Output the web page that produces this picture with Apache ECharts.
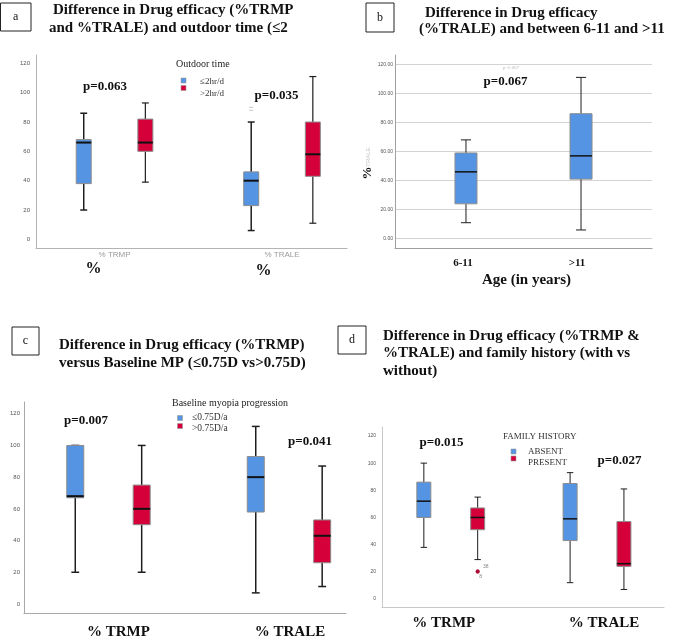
<!DOCTYPE html>
<html>
<head>
<meta charset="utf-8">
<title>Drug efficacy box plots</title>
<script src="https://cdn.jsdelivr.net/npm/echarts@6/dist/echarts.min.js"></script>
<style>
  html, body { margin: 0; padding: 0; background: #fff; }
  #chart { width: 685px; height: 643px; }
</style>
</head>
<body>
<div id="chart"></div>
<script>
// -----------------------------------------------------------------------------
// Data: each box is [min, Q1, median, Q3, max]
// -----------------------------------------------------------------------------
const yTicks = [0, 20, 40, 60, 80, 100, 120];

// a: outdoor time
const aGroups = ["% TRMP", "% TRALE"];
const aLegend = ["≤2hr/d", ">2hr/d"];
const aLow = [[20, 38, 66, 68, 86], [6, 23, 40, 46, 80]];
const aHigh = [[39, 60, 66, 82, 93], [11, 43, 58, 80, 111]];
const aLowOutliers = [[1, 88], [1, 90]]; // [group index, value]
const aP = ["p=0.063", "p=0.035"];

// b: age
const bGroups = ["6-11", ">11"];
const bStats = [[11, 24, 46, 59, 68], [6, 41, 57, 86, 111]];
const bP = ["p=0.067"];

// c: baseline myopia progression
const cGroups = ["% TRMP", "% TRALE"];
const cLegend = ["≤0.75D/a", ">0.75D/a"];
const cLow = [[20, 67, 68, 100, 100], [7, 58, 80, 93, 112]];
const cHigh = [[20, 50, 60, 75, 100], [11, 26, 43, 53, 87]];
const cP = ["p=0.007", "p=0.041"];

// d: family history
const dGroups = ["% TRMP", "% TRALE"];
const dLegend = ["ABSENT", "PRESENT"];
const dAbsent = [[38, 60, 72, 86, 100], [12, 43, 59, 85, 93]];
const dPresent = [[29, 51, 60, 67, 75], [7, 24, 26, 57, 81]];
const dPresentOutliers = [[0, 20.5, "38"], [0, 20, "8"]]; // [group index, value, case id]
const dP = ["p=0.015", "p=0.027"];

// -----------------------------------------------------------------------------
// Styling / layout
// -----------------------------------------------------------------------------
const BLUE = "#5494e3";
const RED = "#d5003a";
const SERIF = "'Liberation Serif', 'Times New Roman', serif";
const SANS = "'Liberation Sans', Arial, sans-serif";
const SHIFT = 0.184; // side-by-side offset of the two boxes in a group

const panels = [
  { grid: { left: 36, top: 55, width: 311, height: 193 }, x: [-0.469, 1.388], y: [-5.9, 125.7],
    boxW: 15, groups: aGroups, axisColor: "#b4b4b4", labelPad: [[0, 0], [0, 0]] },
  { grid: { left: 395, top: 55, width: 257, height: 193 }, x: [-0.617, 1.617], y: [-6.4, 126.4],
    boxW: 22, groups: bGroups, axisColor: "#a0a0a0", labelPad: [[0, 6], [0, 8]] },
  { grid: { left: 24, top: 402, width: 322, height: 211 }, x: [-0.468, 1.316], y: [-5.7, 127.4],
    boxW: 17, groups: cGroups, axisColor: "#a8a8a8", labelPad: [[20, 0], [2, 0]] },
  { grid: { left: 382, top: 427, width: 282, height: 180 }, x: [-0.47, 1.458], y: [-5.9, 126.6],
    boxW: 14, groups: dGroups, axisColor: "#c8c8c8", labelPad: [[0, 14], [14, 0]] },
];

const xLabelStyle = [
  { fontFamily: SANS, fontSize: 8, color: "#9a9a9a", margin: 3 },
  { fontFamily: SERIF, fontSize: 11, fontWeight: "bold", color: "#111", margin: 10 },
  { fontFamily: SERIF, fontSize: 15, fontWeight: "bold", color: "#111", margin: 12 },
  { fontFamily: SERIF, fontSize: 15, fontWeight: "bold", color: "#111", margin: 9 },
];
const yLabelStyle = [
  { fontSize: 6, margin: 6, formatter: (v) => String(v) },
  { fontSize: 5, margin: 2, formatter: (v) => v.toFixed(2) },
  { fontSize: 6, margin: 4, formatter: (v) => String(v) },
  { fontSize: 5, margin: 6, formatter: (v) => String(v) },
];

// -----------------------------------------------------------------------------
// Helpers
// -----------------------------------------------------------------------------
const toItems = (stats, shift) => stats.map((s, i) => [i + shift, ...s]);

const boxRenderer = (boxW, fill, medianWidth, whiskerWidth) => (params, api) => {
  const x = api.value(0);
  const pt = (k) => api.coord([x, api.value(k)]);
  const [cx, yMin] = pt(1);
  const yQ1 = pt(2)[1];
  const yMed = pt(3)[1];
  const yQ3 = pt(4)[1];
  const yMax = pt(5)[1];
  const h = boxW / 2;
  const c = boxW * 0.23;
  const w = { stroke: "#1e1e1e", lineWidth: whiskerWidth };
  return {
    type: "group",
    children: [
      { type: "line", shape: { x1: cx, y1: yQ3, x2: cx, y2: yMax }, style: w },
      { type: "line", shape: { x1: cx - c, y1: yMax, x2: cx + c, y2: yMax }, style: w },
      { type: "line", shape: { x1: cx, y1: yQ1, x2: cx, y2: yMin }, style: w },
      { type: "line", shape: { x1: cx - c, y1: yMin, x2: cx + c, y2: yMin }, style: w },
      { type: "rect", shape: { x: cx - h, y: yQ3, width: boxW, height: yQ1 - yQ3 },
        style: { fill: fill, stroke: "#8c8c8c", lineWidth: 1 } },
      { type: "line", shape: { x1: cx - h, y1: yMed, x2: cx + h, y2: yMed },
        style: { stroke: "#111", lineWidth: medianWidth } },
    ],
  };
};

const boxSeries = (name, idx, stats, shift, fill, medianWidth, whiskerWidth) => ({
  name: name,
  type: "custom",
  xAxisIndex: idx,
  yAxisIndex: idx,
  encode: { x: 0, y: [1, 2, 3, 4, 5] },
  renderItem: boxRenderer(panels[idx].boxW, fill, medianWidth, whiskerWidth),
  data: toItems(stats, shift),
  z: 3,
});

const txt = (text, x, y, o = {}) => ({
  type: "text",
  x: x,
  y: y,
  rotation: o.rotation || 0,
  style: {
    text: text,
    fill: o.color || "#111",
    fontFamily: o.family || SERIF,
    fontSize: o.size || 15,
    fontWeight: o.weight || "normal",
    align: o.align || "left",
    textAlign: o.align || "left",
    verticalAlign: "middle",
    textVerticalAlign: "middle",
  },
});

const frameBox = (label, x, y, w, h) => [
  { type: "rect", shape: { x: x, y: y, width: w, height: h },
    style: { fill: "#fff", stroke: "#222", lineWidth: 1 } },
  txt(label, x + w / 2, y + h / 2, { size: 12, align: "center" }),
];

const legendSwatch = (x, y, color) => ({
  type: "rect", shape: { x: x, y: y, width: 5, height: 5 },
  style: { fill: color, stroke: "#9a9a9a", lineWidth: 0.6 },
});

const bold = (size, align) => ({ weight: "bold", size: size, align: align || "center" });

// -----------------------------------------------------------------------------
// Option
// -----------------------------------------------------------------------------
const grids = panels.map((p) => ({ ...p.grid, containLabel: false }));

const xAxes = panels.map((p, i) => ({
  gridIndex: i,
  type: "value",
  min: p.x[0],
  max: p.x[1],
  axisLine: { show: true, onZero: false, lineStyle: { color: p.axisColor, width: 1.2 } },
  axisTick: { show: false, customValues: [0, 1] },
  splitLine: { show: false },
  axisLabel: {
    customValues: [0, 1],
    formatter: (v) => `{g${Math.round(v)}|${p.groups[Math.round(v)]}}`,
    rich: {
      g0: { padding: [0, p.labelPad[0][1], 0, p.labelPad[0][0]] },
      g1: { padding: [0, p.labelPad[1][1], 0, p.labelPad[1][0]] },
    },
    ...xLabelStyle[i],
  },
}));

const yAxes = panels.map((p, i) => ({
  gridIndex: i,
  type: "value",
  min: p.y[0],
  max: p.y[1],
  axisLine: { show: true, onZero: false, lineStyle: { color: p.axisColor, width: 1 } },
  axisTick: { show: false, customValues: yTicks },
  splitLine: { show: i === 1, lineStyle: { color: "#d2d2d2", width: 1 } },
  axisLabel: {
    customValues: yTicks,
    fontFamily: SANS,
    color: "#555",
    ...yLabelStyle[i],
  },
}));

const series = [
  boxSeries(aLegend[0], 0, aLow, -SHIFT, BLUE, 2, 1.5),
  boxSeries(aLegend[1], 0, aHigh, SHIFT, RED, 2, 1.2),
  {
    name: "a outliers",
    type: "scatter",
    xAxisIndex: 0,
    yAxisIndex: 0,
    symbol: "rect",
    symbolSize: [4, 1],
    itemStyle: { color: "#b8b8b8" },
    data: aLowOutliers.map((o) => [o[0] - SHIFT, o[1]]),
  },
  boxSeries("6-11 / >11", 1, bStats, 0, BLUE, 1.5, 1),
  boxSeries(cLegend[0], 2, cLow, -SHIFT, BLUE, 2, 1.5),
  boxSeries(cLegend[1], 2, cHigh, SHIFT, RED, 2, 1.5),
  boxSeries(dLegend[0], 3, dAbsent, -SHIFT, BLUE, 1.5, 1),
  boxSeries(dLegend[1], 3, dPresent, SHIFT, RED, 1.5, 1),
  {
    name: "d outliers",
    type: "scatter",
    xAxisIndex: 3,
    yAxisIndex: 3,
    symbolSize: 4,
    itemStyle: { color: "#a8002c" },
    label: {
      show: true,
      position: "inside",
      fontFamily: SANS,
      fontSize: 5,
      color: "#666",
      formatter: (p) => p.value[2],
    },
    data: dPresentOutliers.map((o, k) => ({
      value: [o[0] + SHIFT, o[1], o[2]],
      label: { offset: k === 0 ? [8, -5] : [3, 5] },
    })),
    z: 4,
  },
];

const graphics = [
  // panel a
  ...frameBox("a", 0.5, 3, 30.5, 28),
  txt("Difference in Drug efficacy (%TRMP", 53, 10, bold(15, "left")),
  txt("and %TRALE) and outdoor time (≤2", 49, 28, bold(15, "left")),
  txt("Outdoor time", 176, 64, { size: 10, color: "#222" }),
  legendSwatch(181, 78, BLUE),
  legendSwatch(181, 85.5, RED),
  txt(aLegend[0], 200, 81.5, { size: 9, color: "#333" }),
  txt(aLegend[1], 200, 94, { size: 9, color: "#333" }),
  txt(aP[0], 105, 87, bold(13)),
  txt(aP[1], 276.5, 96, bold(13)),
  txt("%", 93.5, 269, bold(16)),
  txt("%", 263.5, 271, bold(16)),

  // panel b
  ...frameBox("b", 366, 3, 28, 29),
  txt("Difference in Drug efficacy", 425, 13, bold(15, "left")),
  txt("(%TRALE) and between 6-11 and >11", 419, 29, bold(15, "left")),
  txt("p=0.067", 511, 68, { size: 5, color: "#bbb", align: "center" }),
  txt(bP[0], 505.5, 82, bold(13)),
  txt("%", 368, 173, { weight: "bold", size: 13, align: "center", rotation: Math.PI / 2 }),
  txt("TRALE", 368, 157, { size: 6, color: "#c4c4c4", align: "center", family: SANS, rotation: Math.PI / 2 }),
  txt("Age (in years)", 526.5, 280, bold(15)),

  // panel c
  ...frameBox("c", 12, 327, 27, 28),
  txt("Difference in Drug efficacy (%TRMP)", 59, 345, bold(15, "left")),
  txt("versus Baseline MP (≤0.75D vs>0.75D)", 59, 363, bold(15, "left")),
  txt("Baseline myopia progression", 172, 403, { size: 10, color: "#222" }),
  legendSwatch(177.5, 415.5, BLUE),
  legendSwatch(177.5, 423.5, RED),
  txt(cLegend[0], 192, 417.5, { size: 9.5, color: "#333" }),
  txt(cLegend[1], 192, 428.5, { size: 9.5, color: "#333" }),
  txt(cP[0], 86, 420.5, bold(13)),
  txt(cP[1], 310, 442, bold(13)),

  // panel d
  ...frameBox("d", 338, 326, 28, 28),
  txt("Difference in Drug efficacy (%TRMP &", 383, 336, bold(15, "left")),
  txt("%TRALE) and family history (with vs", 383, 353, bold(15, "left")),
  txt("without)", 383, 371, bold(15, "left")),
  txt("FAMILY HISTORY", 503, 437, { size: 9, color: "#333" }),
  legendSwatch(511, 449, BLUE),
  legendSwatch(511, 456, RED),
  txt(dLegend[0], 528, 452, { size: 9, color: "#333" }),
  txt(dLegend[1], 528, 463, { size: 9, color: "#333" }),
  txt(dP[0], 441.5, 443, bold(13)),
  txt(dP[1], 619.5, 461, bold(13)),
];

const myChart = echarts.init(document.getElementById("chart"), null, { renderer: "canvas" });
myChart.setOption({
  backgroundColor: "#fff",
  animation: false,
  grid: grids,
  xAxis: xAxes,
  yAxis: yAxes,
  series: series,
  graphic: { elements: graphics },
});
</script>
</body>
</html>
